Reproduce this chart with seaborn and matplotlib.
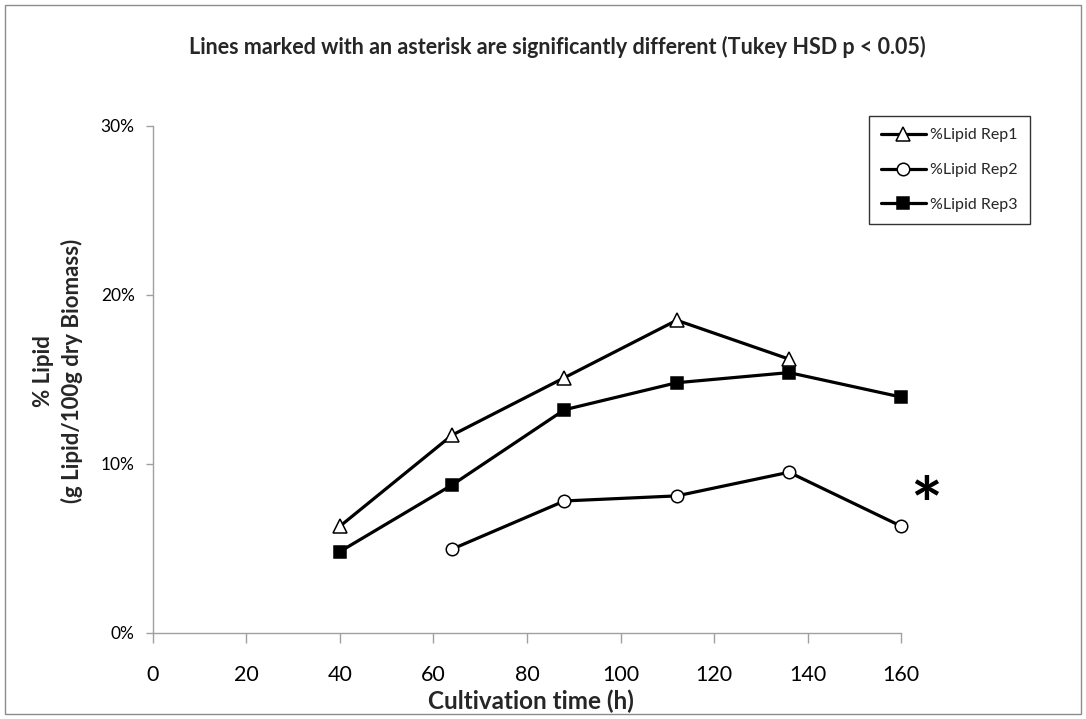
import matplotlib
matplotlib.use("Agg")
import matplotlib.pyplot as plt
from matplotlib.patches import Rectangle
from matplotlib.ticker import FuncFormatter
import seaborn as sns
import pandas as pd

# Cultivation time (h) and lipid content (% of dry biomass) per replicate
hours_rep1 = [40, 64, 88, 112, 136]
lipid_rep1 = [6.3, 11.7, 15.1, 18.5, 16.2]

hours_rep2 = [64, 88, 112, 136, 160]
lipid_rep2 = [4.95, 7.8, 8.1, 9.5, 6.3]

hours_rep3 = [40, 64, 88, 112, 136, 160]
lipid_rep3 = [4.8, 8.75, 13.2, 14.8, 15.4, 13.95]

series_labels = ["%Lipid Rep1", "%Lipid Rep2", "%Lipid Rep3"]
x_ticks = [0, 20, 40, 60, 80, 100, 120, 140, 160]
y_ticks = [0, 10, 20, 30]

title_text = "Lines marked with an asterisk are significantly different (Tukey HSD p < 0.05)"
x_label = "Cultivation time (h)"
y_label = "% Lipid\n(g Lipid/100g dry Biomass)"
signif_mark = "*"

sns.set_style("white")
plt.rcParams["font.family"] = ["Lato", "DejaVu Sans"]

W, H = 1086, 719
fig = plt.figure(figsize=(W / 100, H / 100), dpi=100)
ax = fig.add_axes([152.7 / W, 1 - 632.7 / H, (901.3 - 152.7) / W, (632.7 - 126) / H])

frames = [
    pd.DataFrame({"hours": hours_rep1, "lipid": lipid_rep1}),
    pd.DataFrame({"hours": hours_rep2, "lipid": lipid_rep2}),
    pd.DataFrame({"hours": hours_rep3, "lipid": lipid_rep3}),
]
styles = [
    dict(marker="^", markerfacecolor="white", markersize=10),
    dict(marker="o", markerfacecolor="white", markersize=9),
    dict(marker="s", markerfacecolor="black", markersize=9),
]
for df, label, st in zip(frames, series_labels, styles):
    sns.lineplot(data=df, x="hours", y="lipid", ax=ax, color="black",
                 linewidth=2.3, markeredgecolor="black", markeredgewidth=1.1,
                 label=label, clip_on=False, **st)

ax.set_xlim(0, 160)
ax.set_ylim(0, 30)
ax.set_xticks(x_ticks)
ax.set_yticks(y_ticks)
ax.yaxis.set_major_formatter(FuncFormatter(lambda v, p: f"{v:.0f}%"))
ax.set_xlabel("")
ax.set_ylabel("")

for side in ("top", "right"):
    ax.spines[side].set_visible(False)
for side in ("left", "bottom"):
    ax.spines[side].set_color("#a0a0a0")
    ax.spines[side].set_linewidth(1.0)
ax.tick_params(axis="x", colors="#a0a0a0", labelcolor="black", direction="out",
               length=7, width=1, labelsize=15.5, pad=16, bottom=True)
ax.tick_params(axis="y", colors="#a0a0a0", labelcolor="black", direction="out",
               length=5, width=1, labelsize=12.5, pad=8, left=True)
ax.grid(False)

ax.text(165.4, 7.3, signif_mark, fontsize=54, fontweight="bold",
        ha="center", va="center", color="black")

leg = ax.legend(loc="upper right", bbox_to_anchor=(1030 / W, 1 - 116 / H),
                bbox_transform=fig.transFigure, frameon=True, fancybox=False,
                fontsize=11.5, handlelength=2.8, handletextpad=0.3,
                labelspacing=1.3, borderpad=0.75, borderaxespad=0)
leg.get_frame().set_edgecolor("black")
leg.get_frame().set_linewidth(1.0)

fig.text(557 / W, 1 - 47 / H, title_text, ha="center", va="center",
         fontsize=15.5, fontweight="bold")
fig.text(531 / W, 1 - 701 / H, x_label, ha="center", va="center",
         fontsize=17.5, fontweight="bold")
fig.text(58 / W, 1 - 371 / H, y_label, ha="center", va="center",
         rotation=90, fontsize=16, fontweight="bold", linespacing=1.38,
         multialignment="center")

fig.patches.append(Rectangle((5 / W, 5 / H), 1 - 10 / W, 1 - 10 / H,
                             transform=fig.transFigure, fill=False,
                             edgecolor="#8c8c8c", linewidth=1.0))

fig.savefig("out.png", dpi=100, facecolor="white")
